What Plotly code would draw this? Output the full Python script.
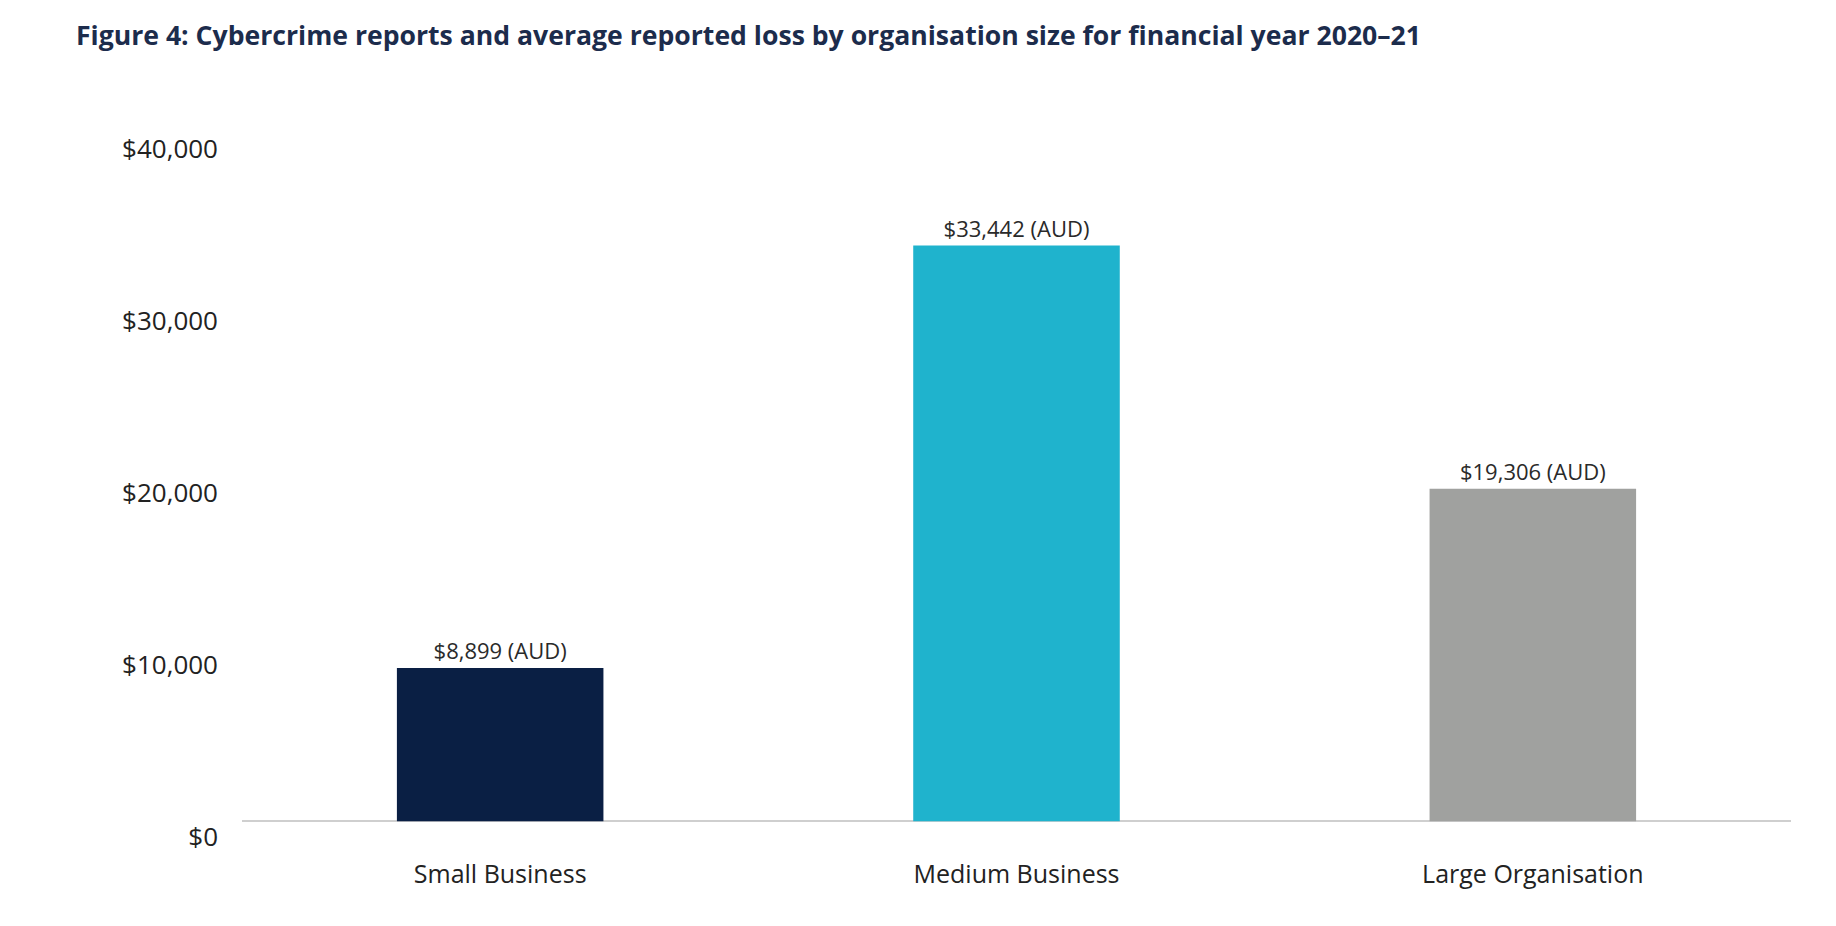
import plotly.graph_objects as go

categories = ["Small Business", "Medium Business", "Large Organisation"]
avg_loss = [8899, 33442, 19306]
bar_labels = ["$8,899 (AUD)", "$33,442 (AUD)", "$19,306 (AUD)"]
bar_colors = ["#0a1f44", "#1fb3cd", "#a0a19f"]
y_tickvals = [0, 10000, 20000, 30000, 40000]
y_ticktext = ["$0", "$10,000", "$20,000", "$30,000", "$40,000"]
title_text = "Figure 4: Cybercrime reports and average reported loss by organisation size for financial year 2020–21"

W, H = 1836, 926
OFF = 8  # page body margin offset
y_range = [-1500, 40500]
label_shift = 930  # tick labels in the original sit slightly below their gridline positions

fig = go.Figure()
fig.add_trace(go.Bar(
    x=categories, y=avg_loss, text=bar_labels, textposition="outside",
    textfont=dict(family="Open Sans", size=22, color="#2a2a2a"),
    marker=dict(color=bar_colors, line=dict(width=0)),
    width=0.4, cliponaxis=False, hoverinfo="skip", showlegend=False,
))
# invisible trace to bind the label axis
fig.add_trace(go.Scatter(x=[categories[0]], y=[None], yaxis="y2", showlegend=False, hoverinfo="skip"))

fig.update_layout(
    width=W, height=H,
    paper_bgcolor="white", plot_bgcolor="white",
    margin=dict(l=242 - OFF, r=45 + OFF, t=124 - OFF, b=79 + OFF),
    title=dict(text=title_text, x=(76 - OFF) / W, xref="container", xanchor="left",
               y=1 - (36 - OFF) / H, yref="container", yanchor="middle",
               font=dict(family="Open Sans", size=26.6, color="#1c2c4c", weight="bold")),
    xaxis=dict(range=[-0.5, 2.5], showgrid=False, showline=False, zeroline=False,
               ticks="", tickfont=dict(family="Open Sans", size=25, color="#222222"),
               ticklabelstandoff=10, automargin=False),
    yaxis=dict(range=y_range, showgrid=False, showticklabels=False, ticks="",
               zeroline=True, zerolinecolor="#cfcfcf", zerolinewidth=2, showline=False,
               automargin=False),
    yaxis2=dict(range=[y_range[0] + label_shift, y_range[1] + label_shift], overlaying="y",
                side="left", showgrid=False, zeroline=False, showline=False, ticks="",
                tickvals=y_tickvals, ticktext=y_ticktext, ticklabelstandoff=23,
                tickfont=dict(family="Open Sans", size=26, color="#222222"), automargin=False),
    bargap=0.6,
)

fig.write_html("out.html")
